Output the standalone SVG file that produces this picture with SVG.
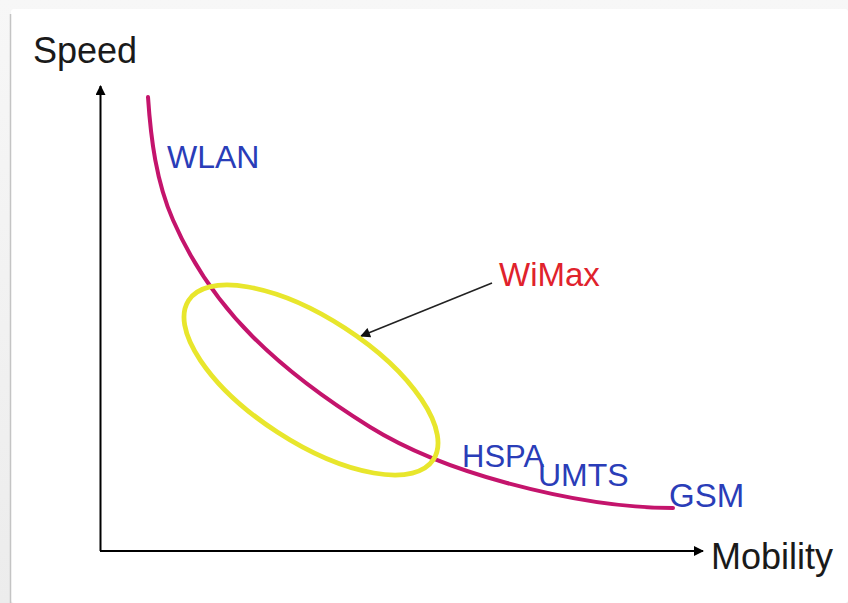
<svg xmlns="http://www.w3.org/2000/svg" width="848" height="603" viewBox="0 0 848 603">
  <defs>
    <marker id="axhead" viewBox="0 0 10 10" refX="9" refY="5" markerWidth="10" markerHeight="10" markerUnits="userSpaceOnUse" orient="auto">
      <path d="M0,0 L10,5 L0,10 z" fill="#000"/>
    </marker>
    <marker id="ptrhead" viewBox="0 0 10 10" refX="9" refY="5" markerWidth="11" markerHeight="10" markerUnits="userSpaceOnUse" orient="auto">
      <path d="M0,0 L10,5 L0,10 z" fill="#111"/>
    </marker>
    <linearGradient id="topband" x1="0" y1="0" x2="0" y2="1">
      <stop offset="0" stop-color="#f7f7f7"/>
      <stop offset="1" stop-color="#ececec"/>
    </linearGradient>
  </defs>
  <style>
    .lbl { font-family: "Liberation Sans", Arial, sans-serif; }
    .axis-lbl { font-size: 36px; fill: #1a1a1a; }
    .tech { fill: #2a3db8; }
    .wimax { font-size: 33px; fill: #e0222c; }
    .axis { stroke: #000; stroke-width: 2; fill: none; }
  </style>

  <!-- frame -->
  <rect x="0" y="0" width="848" height="603" fill="url(#topband)"/>
  <rect x="11" y="9" width="837" height="594" rx="3" fill="#fff"/>
  <line x1="10.5" y1="14" x2="10.5" y2="603" stroke="#c4c4c4" stroke-width="1.5"/>

  <g id="connectors">
    <line id="y-axis" class="axis" x1="100.5" y1="551" x2="100.5" y2="86" marker-end="url(#axhead)"/>
    <line id="x-axis" class="axis" x1="100" y1="551" x2="703" y2="551" marker-end="url(#axhead)"/>
    <line id="wimax-pointer" x1="492" y1="283" x2="361" y2="336" stroke="#222" stroke-width="1.6" marker-end="url(#ptrhead)"/>
  </g>

  <g id="tradeoff-curve">
    <path d="M148,97 C150.8,138.9 156.2,181.5 173,220 C191.8,263.1 219.8,303.8 253,337 C287.6,371.6 328.4,401.2 370,427 C411.6,452.8 459.7,470.2 507,483 C561,497.6 617,508 673,508" fill="none" stroke="#c4146c" stroke-width="4" stroke-linecap="round"/>
  </g>

  <g id="wimax-ellipse">
    <ellipse cx="311" cy="380" rx="146" ry="62" transform="rotate(33 311 380)" fill="none" stroke="#e8e62c" stroke-width="4.8"/>
  </g>

  <g id="speed-label"><text class="lbl axis-lbl" x="33" y="63">Speed</text></g>
  <g id="mobility-label"><text class="lbl axis-lbl" x="711" y="569">Mobility</text></g>
  <g id="wlan"><text class="lbl tech" x="167" y="168" font-size="32">WLAN</text></g>
  <g id="wimax"><text class="lbl wimax" x="499" y="286">WiMax</text></g>
  <g id="hspa"><text class="lbl tech" x="462" y="467" font-size="31">HSPA</text></g>
  <g id="umts"><text class="lbl tech" x="538" y="486" font-size="32">UMTS</text></g>
  <g id="gsm"><text class="lbl tech" x="669" y="507" font-size="33">GSM</text></g>
</svg>
